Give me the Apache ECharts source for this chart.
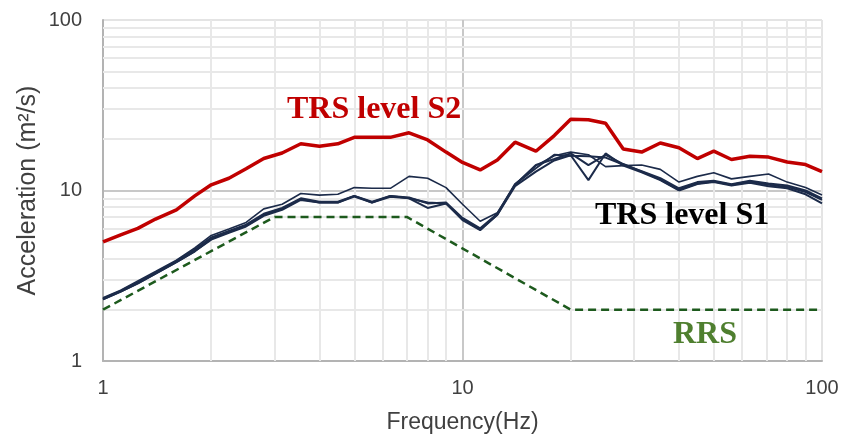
<!DOCTYPE html>
<html>
<head>
<meta charset="utf-8">
<script src="https://cdn.jsdelivr.net/npm/echarts@6/dist/echarts.min.js"></script>
<style>
  html, body { margin: 0; padding: 0; background: #ffffff; }
  #chart { width: 842px; height: 437px; }
</style>
</head>
<body>
<div id="chart"></div>
<script>
// Frequencies (Hz) shared by all response spectra
const freq = [1, 1.12, 1.25, 1.4, 1.6, 1.8, 2, 2.24, 2.5, 2.8, 3.15, 3.55, 4, 4.5, 5, 5.6, 6.3, 7.1, 8, 9,
              10, 11.2, 12.5, 14, 16, 18, 20, 22.4, 25, 28, 31.5, 35.5, 40, 45, 50, 56, 63, 71, 80, 90, 100];

// Test response spectrum, level S2 (m²/s)
const trsS2 = [5.0, 5.5, 6.0, 6.8, 7.7, 9.3, 10.8, 11.8, 13.4, 15.4, 16.6, 18.8, 18.2, 18.8, 20.5, 20.5, 20.5, 21.8, 19.8, 16.8,
               14.6, 13.2, 15.1, 19.2, 17.0, 21.0, 26.2, 26.0, 24.8, 17.5, 16.8, 19.0, 17.8, 15.4, 17.0, 15.2, 15.9, 15.7, 14.7, 14.2, 12.9];

// Test response spectra, level S1 (several runs)
const trsS1a = [2.35, 2.6, 2.95, 3.35, 3.9, 4.6, 5.45, 5.95, 6.5, 7.8, 8.3, 9.6, 9.4, 9.5, 10.4, 10.3, 10.3, 12.1, 11.8, 10.4,
                8.3, 6.6, 7.4, 10.8, 14.0, 16.0, 16.8, 16.2, 13.8, 14.0, 14.1, 13.3, 11.2, 12.1, 12.7, 11.7, 12.1, 12.5, 11.2, 10.4, 9.4];
const trsS1b = [2.3, 2.55, 2.85, 3.25, 3.8, 4.4, 5.2, 5.7, 6.2, 7.2, 7.8, 8.9, 8.5, 8.5, 9.3, 8.5, 9.3, 9.0, 8.5, 8.4,
                6.8, 5.9, 7.2, 10.8, 14.1, 15.3, 16.5, 14.1, 16.2, 14.3, 12.9, 11.6, 10.1, 11.0, 11.3, 10.8, 11.3, 10.8, 10.5, 9.8, 8.8];
const trsS1c = [2.3, 2.55, 2.85, 3.25, 3.8, 4.4, 5.15, 5.65, 6.15, 7.1, 7.7, 8.8, 8.5, 8.5, 9.2, 8.5, 9.2, 9.0, 7.9, 8.4,
                6.7, 5.85, 7.2, 10.6, 12.9, 15.0, 16.1, 11.5, 16.5, 14.0, 12.8, 11.5, 10.0, 10.9, 11.2, 10.7, 11.1, 10.6, 10.3, 9.5, 8.4];
const trsS1d = [2.32, 2.58, 2.9, 3.3, 3.85, 4.5, 5.3, 5.8, 6.3, 7.3, 7.9, 9.0, 8.6, 8.6, 9.3, 8.6, 9.3, 9.1, 8.4, 8.5,
                6.9, 6.0, 7.3, 10.9, 13.5, 16.2, 16.0, 15.9, 15.6, 14.2, 13.0, 11.8, 10.3, 11.2, 11.4, 10.9, 11.4, 11.0, 10.7, 10.0, 9.0];

// Required response spectrum (corner points)
const rrsFreq = [1, 3, 7, 20, 100];
const rrsAcc  = [2, 7, 7, 2, 2];

// Axis tick labels
const xTicks = [1, 10, 100];
const yTicks = [1, 10, 100];

const pairs = (xs, ys) => xs.map((x, i) => [x, ys[i]]);

// Minor log grid values 2..9 in each decade
const minorVals = [];
[1, 10].forEach(d => { for (let k = 2; k <= 9; k++) minorVals.push(k * d); });

const chart = echarts.init(document.getElementById('chart'), null, { renderer: 'canvas' });

const navy = '#1c2b4a';
const sans = '"Liberation Sans", Arial, sans-serif';
const serif = '"Liberation Serif", "Times New Roman", serif';

const s1Series = [trsS1a, trsS1b, trsS1c, trsS1d].map((vals, i) => ({
  name: 'TRS level S1 #' + (i + 1),
  type: 'line',
  data: pairs(freq, vals),
  showSymbol: false,
  symbol: 'none',
  z: 4,
  lineStyle: { color: navy, width: i === 0 ? 1.6 : 2 }
}));

chart.setOption({
  animation: false,
  backgroundColor: '#ffffff',
  grid: { left: 103, right: 20, top: 20, bottom: 76, containLabel: false, outerBoundsMode: 'none' },
  xAxis: {
    type: 'log', logBase: 10, min: 1, max: 100,
    name: 'Frequency(Hz)', nameLocation: 'middle', nameGap: 50,
    nameTextStyle: { fontFamily: sans, fontSize: 23, color: '#404040' },
    axisLine: { show: true, lineStyle: { color: '#b3b3b3', width: 2 } },
    axisTick: { show: false },
    axisLabel: {
      fontFamily: sans, fontSize: 20, color: '#404040', margin: 17,
      formatter: v => (xTicks.includes(Math.round(v)) ? String(Math.round(v)) : '')
    },
    splitLine: { show: true, lineStyle: { color: ['#b3b3b3', '#c8c8c8', '#e4e4e4'], width: 2 } }
  },
  yAxis: {
    type: 'log', logBase: 10, min: 1, max: 100,
    name: 'Acceleration (m²/s)', nameLocation: 'middle', nameGap: 62, nameMoveOverlap: false,
    nameTextStyle: { fontFamily: sans, fontSize: 25, color: '#404040' },
    axisLine: { show: true, lineStyle: { color: '#b3b3b3', width: 2 } },
    axisTick: { show: false },
    axisLabel: {
      fontFamily: sans, fontSize: 20, color: '#404040', margin: 21,
      formatter: v => (yTicks.includes(Math.round(v)) ? String(Math.round(v)) : '')
    },
    splitLine: { show: true, lineStyle: { color: ['#b3b3b3', '#c8c8c8', '#e4e4e4'], width: 2 } }
  },
  series: [
    {
      name: 'grid-minor',
      type: 'line',
      data: [],
      silent: true,
      z: 1,
      markLine: {
        silent: true,
        z: 1,
        symbol: 'none',
        label: { show: false },
        lineStyle: { color: '#e8e8e8', width: 2, type: 'solid' },
        data: minorVals.map(v => ({ xAxis: v })).concat(minorVals.map(v => ({ yAxis: v })))
      }
    },
    {
      name: 'RRS',
      type: 'line',
      data: pairs(rrsFreq, rrsAcc),
      showSymbol: false,
      symbol: 'none',
      z: 3,
      lineStyle: { color: '#1d5a1d', width: 2.5, type: [8, 5] }
    },
    ...s1Series,
    {
      name: 'TRS level S2',
      type: 'line',
      data: pairs(freq, trsS2),
      showSymbol: false,
      symbol: 'none',
      z: 5,
      lineStyle: { color: '#c00000', width: 3.5 }
    }
  ],
  graphic: [
    { type: 'text', left: 287, top: 94, z: 10,
      style: { text: 'TRS level S2', fill: '#c00000', font: 'bold 32px ' + serif } },
    { type: 'text', left: 595, top: 200, z: 10,
      style: { text: 'TRS level S1', fill: '#000000', font: 'bold 32px ' + serif } },
    { type: 'text', left: 673, top: 319, z: 10,
      style: { text: 'RRS', fill: '#4f7f2f', font: 'bold 32px ' + serif } }
  ]
});
</script>
</body>
</html>
